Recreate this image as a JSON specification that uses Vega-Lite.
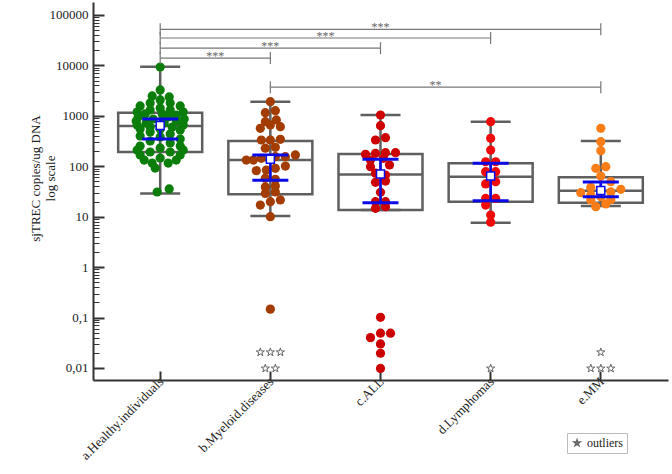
{
 "$schema": "https://vega.github.io/schema/vega-lite/v6.json",
 "width": 575, "height": 378,
 "autosize": {"type": "none"},
 "padding": {"left": 93, "top": 2, "right": 4, "bottom": 94},
 "background": "white",
 "config": {"view": {"stroke": null}, "font": "Liberation Serif", "axis": {"grid": false}},
 "datasets": {
  "boxes": [
   {"g": "a.Healthy.individuals", "lo": 29, "q1": 192, "med": 630, "q3": 1157, "hi": 9440, "mean": 645, "ciLo": 348, "ciHi": 867},
   {"g": "b.Myeloid.diseases", "lo": 10.3, "q1": 28, "med": 133, "q3": 318, "hi": 1910, "mean": 138, "ciLo": 53, "ciHi": 167},
   {"g": "c.ALL", "lo": 13.6, "q1": 13.6, "med": 69, "q3": 175, "hi": 1040, "mean": 70, "ciLo": 19, "ciHi": 138},
   {"g": "d.Lymphomas", "lo": 7.6, "q1": 19.9, "med": 62, "q3": 115, "hi": 766, "mean": 64, "ciLo": 20.8, "ciHi": 115},
   {"g": "e.MM", "lo": 16.3, "q1": 19, "med": 32.8, "q3": 60.5, "hi": 318, "mean": 33, "ciLo": 25, "ciHi": 48.7}
  ],
  "dots": [
   {"g": "a.Healthy.individuals", "v": 9300, "s": 0},
   {"g": "a.Healthy.individuals", "v": 3260, "s": 0},
   {"g": "a.Healthy.individuals", "v": 2480, "s": -0.8},
   {"g": "a.Healthy.individuals", "v": 2370, "s": 0.9},
   {"g": "a.Healthy.individuals", "v": 2070, "s": 0},
   {"g": "a.Healthy.individuals", "v": 1800, "s": -1},
   {"g": "a.Healthy.individuals", "v": 1800, "s": 1},
   {"g": "a.Healthy.individuals", "v": 1570, "s": -2},
   {"g": "a.Healthy.individuals", "v": 1570, "s": 2},
   {"g": "a.Healthy.individuals", "v": 1430, "s": 0},
   {"g": "a.Healthy.individuals", "v": 1310, "s": -1},
   {"g": "a.Healthy.individuals", "v": 1310, "s": 1},
   {"g": "a.Healthy.individuals", "v": 1190, "s": -2.3},
   {"g": "a.Healthy.individuals", "v": 1190, "s": 2.3},
   {"g": "a.Healthy.individuals", "v": 1090, "s": -1.5},
   {"g": "a.Healthy.individuals", "v": 1090, "s": 0.2},
   {"g": "a.Healthy.individuals", "v": 1040, "s": 1.6},
   {"g": "a.Healthy.individuals", "v": 949, "s": -2.2},
   {"g": "a.Healthy.individuals", "v": 949, "s": 0.8},
   {"g": "a.Healthy.individuals", "v": 866, "s": -0.7},
   {"g": "a.Healthy.individuals", "v": 866, "s": 2.4},
   {"g": "a.Healthy.individuals", "v": 790, "s": -2.4},
   {"g": "a.Healthy.individuals", "v": 790, "s": 1.6},
   {"g": "a.Healthy.individuals", "v": 721, "s": -1.4},
   {"g": "a.Healthy.individuals", "v": 721, "s": 0.4},
   {"g": "a.Healthy.individuals", "v": 659, "s": -2.3},
   {"g": "a.Healthy.individuals", "v": 659, "s": 2.3},
   {"g": "a.Healthy.individuals", "v": 601, "s": -1},
   {"g": "a.Healthy.individuals", "v": 601, "s": 1.2},
   {"g": "a.Healthy.individuals", "v": 548, "s": -2},
   {"g": "a.Healthy.individuals", "v": 548, "s": 0},
   {"g": "a.Healthy.individuals", "v": 524, "s": 2},
   {"g": "a.Healthy.individuals", "v": 478, "s": -1},
   {"g": "a.Healthy.individuals", "v": 437, "s": 1},
   {"g": "a.Healthy.individuals", "v": 399, "s": -2},
   {"g": "a.Healthy.individuals", "v": 381, "s": 0},
   {"g": "a.Healthy.individuals", "v": 348, "s": 2},
   {"g": "a.Healthy.individuals", "v": 317, "s": -1},
   {"g": "a.Healthy.individuals", "v": 290, "s": 1},
   {"g": "a.Healthy.individuals", "v": 252, "s": -2},
   {"g": "a.Healthy.individuals", "v": 252, "s": 2},
   {"g": "a.Healthy.individuals", "v": 231, "s": 0},
   {"g": "a.Healthy.individuals", "v": 210, "s": -2.3},
   {"g": "a.Healthy.individuals", "v": 210, "s": 2.3},
   {"g": "a.Healthy.individuals", "v": 192, "s": -1},
   {"g": "a.Healthy.individuals", "v": 192, "s": 1},
   {"g": "a.Healthy.individuals", "v": 168, "s": -2},
   {"g": "a.Healthy.individuals", "v": 168, "s": 2},
   {"g": "a.Healthy.individuals", "v": 146, "s": 0},
   {"g": "a.Healthy.individuals", "v": 133, "s": -1.6},
   {"g": "a.Healthy.individuals", "v": 133, "s": 1.6},
   {"g": "a.Healthy.individuals", "v": 116, "s": -0.8},
   {"g": "a.Healthy.individuals", "v": 116, "s": 0.8},
   {"g": "a.Healthy.individuals", "v": 92, "s": -0.5},
   {"g": "a.Healthy.individuals", "v": 35.5, "s": 0.9},
   {"g": "a.Healthy.individuals", "v": 30.9, "s": -0.3},
   {"g": "b.Myeloid.diseases", "v": 1910, "s": 0},
   {"g": "b.Myeloid.diseases", "v": 1157, "s": -0.5},
   {"g": "b.Myeloid.diseases", "v": 1265, "s": 0.5},
   {"g": "b.Myeloid.diseases", "v": 766, "s": -0.5},
   {"g": "b.Myeloid.diseases", "v": 830, "s": 0.6},
   {"g": "b.Myeloid.diseases", "v": 660, "s": 0},
   {"g": "b.Myeloid.diseases", "v": 567, "s": -1},
   {"g": "b.Myeloid.diseases", "v": 610, "s": 1},
   {"g": "b.Myeloid.diseases", "v": 332, "s": -0.9},
   {"g": "b.Myeloid.diseases", "v": 332, "s": 0},
   {"g": "b.Myeloid.diseases", "v": 343, "s": 1},
   {"g": "b.Myeloid.diseases", "v": 228, "s": -0.5},
   {"g": "b.Myeloid.diseases", "v": 238, "s": 0.5},
   {"g": "b.Myeloid.diseases", "v": 133, "s": -2.4},
   {"g": "b.Myeloid.diseases", "v": 133, "s": -1.7},
   {"g": "b.Myeloid.diseases", "v": 144, "s": -0.9},
   {"g": "b.Myeloid.diseases", "v": 155, "s": 0.5},
   {"g": "b.Myeloid.diseases", "v": 155, "s": 1.5},
   {"g": "b.Myeloid.diseases", "v": 168, "s": 2.5},
   {"g": "b.Myeloid.diseases", "v": 82, "s": -1.4},
   {"g": "b.Myeloid.diseases", "v": 84, "s": -0.4},
   {"g": "b.Myeloid.diseases", "v": 91, "s": 0.5},
   {"g": "b.Myeloid.diseases", "v": 101, "s": 1.5},
   {"g": "b.Myeloid.diseases", "v": 58, "s": -0.5},
   {"g": "b.Myeloid.diseases", "v": 55, "s": 0.5},
   {"g": "b.Myeloid.diseases", "v": 39, "s": -0.5},
   {"g": "b.Myeloid.diseases", "v": 40.6, "s": 0.5},
   {"g": "b.Myeloid.diseases", "v": 29, "s": -0.5},
   {"g": "b.Myeloid.diseases", "v": 31, "s": 0.5},
   {"g": "b.Myeloid.diseases", "v": 19.9, "s": 0},
   {"g": "b.Myeloid.diseases", "v": 17, "s": -1},
   {"g": "b.Myeloid.diseases", "v": 21.5, "s": 1},
   {"g": "b.Myeloid.diseases", "v": 10, "s": 0},
   {"g": "b.Myeloid.diseases", "v": 0.147, "s": 0},
   {"g": "c.ALL", "v": 1040, "s": 0},
   {"g": "c.ALL", "v": 638, "s": 0},
   {"g": "c.ALL", "v": 332, "s": -0.5},
   {"g": "c.ALL", "v": 369, "s": 0.5},
   {"g": "c.ALL", "v": 173, "s": -1.5},
   {"g": "c.ALL", "v": 181, "s": -0.5},
   {"g": "c.ALL", "v": 186, "s": 0.5},
   {"g": "c.ALL", "v": 186, "s": 1.5},
   {"g": "c.ALL", "v": 133, "s": -1},
   {"g": "c.ALL", "v": 144, "s": 0.3},
   {"g": "c.ALL", "v": 98, "s": -1},
   {"g": "c.ALL", "v": 106, "s": 0.9},
   {"g": "c.ALL", "v": 73, "s": -0.5},
   {"g": "c.ALL", "v": 67, "s": 0.5},
   {"g": "c.ALL", "v": 48, "s": -0.5},
   {"g": "c.ALL", "v": 51, "s": 0.5},
   {"g": "c.ALL", "v": 30.5, "s": 0},
   {"g": "c.ALL", "v": 19.9, "s": -0.5},
   {"g": "c.ALL", "v": 19.9, "s": 0.5},
   {"g": "c.ALL", "v": 14.7, "s": -0.5},
   {"g": "c.ALL", "v": 15.8, "s": 0.5},
   {"g": "c.ALL", "v": 0.101, "s": 0},
   {"g": "c.ALL", "v": 0.040, "s": -1},
   {"g": "c.ALL", "v": 0.049, "s": 0},
   {"g": "c.ALL", "v": 0.049, "s": 1},
   {"g": "c.ALL", "v": 0.030, "s": 0},
   {"g": "c.ALL", "v": 0.0196, "s": 0},
   {"g": "c.ALL", "v": 0.0098, "s": 0},
   {"g": "d.Lymphomas", "v": 766, "s": 0},
   {"g": "d.Lymphomas", "v": 359, "s": 0},
   {"g": "d.Lymphomas", "v": 210, "s": 0},
   {"g": "d.Lymphomas", "v": 123, "s": -0.5},
   {"g": "d.Lymphomas", "v": 123, "s": 0.5},
   {"g": "d.Lymphomas", "v": 78, "s": -0.5},
   {"g": "d.Lymphomas", "v": 78, "s": 0.5},
   {"g": "d.Lymphomas", "v": 44.6, "s": -0.5},
   {"g": "d.Lymphomas", "v": 49.5, "s": 0.5},
   {"g": "d.Lymphomas", "v": 23, "s": -0.5},
   {"g": "d.Lymphomas", "v": 23, "s": 0.5},
   {"g": "d.Lymphomas", "v": 17, "s": -0.5},
   {"g": "d.Lymphomas", "v": 10.8, "s": 0},
   {"g": "d.Lymphomas", "v": 7.8, "s": 0},
   {"g": "e.MM", "v": 566, "s": 0},
   {"g": "e.MM", "v": 308, "s": 0},
   {"g": "e.MM", "v": 204, "s": 0},
   {"g": "e.MM", "v": 91, "s": -0.5},
   {"g": "e.MM", "v": 98, "s": 0.5},
   {"g": "e.MM", "v": 64, "s": 0},
   {"g": "e.MM", "v": 38, "s": -1},
   {"g": "e.MM", "v": 49.5, "s": 1},
   {"g": "e.MM", "v": 30, "s": -2},
   {"g": "e.MM", "v": 35, "s": 2},
   {"g": "e.MM", "v": 27, "s": -1},
   {"g": "e.MM", "v": 31, "s": 1},
   {"g": "e.MM", "v": 25, "s": 0},
   {"g": "e.MM", "v": 21.5, "s": -1},
   {"g": "e.MM", "v": 21.8, "s": 1},
   {"g": "e.MM", "v": 15.8, "s": -0.5},
   {"g": "e.MM", "v": 17.9, "s": 0.5}
  ],
  "stars": [
   {"g": "b.Myeloid.diseases", "v": 0.0205, "s": -1},
   {"g": "b.Myeloid.diseases", "v": 0.0205, "s": 0},
   {"g": "b.Myeloid.diseases", "v": 0.0205, "s": 1},
   {"g": "b.Myeloid.diseases", "v": 0.0098, "s": -0.5},
   {"g": "b.Myeloid.diseases", "v": 0.0098, "s": 0.5},
   {"g": "d.Lymphomas", "v": 0.0098, "s": 0},
   {"g": "e.MM", "v": 0.0205, "s": 0},
   {"g": "e.MM", "v": 0.0098, "s": -1},
   {"g": "e.MM", "v": 0.0098, "s": 0},
   {"g": "e.MM", "v": 0.0098, "s": 1}
  ],
  "brackets": [
   {"from": "a.Healthy.individuals", "to": "e.MM", "level": 52000, "label": "***", "at": "c.ALL", "half": 0},
   {"from": "a.Healthy.individuals", "to": "d.Lymphomas", "level": 35000, "label": "***", "at": "b.Myeloid.diseases", "half": 5.5},
   {"from": "a.Healthy.individuals", "to": "c.ALL", "level": 22000, "label": "***", "at": "b.Myeloid.diseases", "half": 0},
   {"from": "a.Healthy.individuals", "to": "b.Myeloid.diseases", "level": 14000, "label": "***", "at": "a.Healthy.individuals", "half": 5.5},
   {"from": "b.Myeloid.diseases", "to": "e.MM", "level": 3700, "label": "**", "at": "c.ALL", "half": 5.5}
  ]
 },
 "layer": [
  {
   "data": {"name": "boxes"},
   "mark": {"type": "rule", "color": "#5f5f5f", "strokeWidth": 2.5},
   "encoding": {
    "x": {"field": "g", "type": "nominal",
     "scale": {"type": "band", "domain": ["a.Healthy.individuals", "b.Myeloid.diseases", "c.ALL", "d.Lymphomas", "e.MM"], "paddingInner": 0, "paddingOuter": 0.11},
     "axis": {"title": null, "labelAngle": -45, "labelFont": "Liberation Serif", "labelFontSize": 13, "labelColor": "#222", "tickSize": -9, "tickWidth": 2, "tickColor": "#333", "domainColor": "#333", "domainWidth": 2, "labelPadding": 4, "labelOffset": -3}},
    "y": {"field": "lo", "type": "quantitative",
     "scale": {"type": "log", "domain": [0.00578, 181000], "nice": false},
     "axis": {
      "title": ["sjTREC copies/ug DNA", "log scale"],
      "titleFont": "Liberation Serif", "titleFontSize": 13, "titleFontWeight": "normal", "titleColor": "#222",
      "titleAngle": -90, "titleX": -58, "titleY": 176, "titleAlign": "center", "titleBaseline": "middle", "titleLineHeight": 15,
      "values": [0.01,0.02,0.03,0.04,0.05,0.06,0.07,0.08,0.09,0.1,0.2,0.3,0.4,0.5,0.6,0.7,0.8,0.9,1,2,3,4,5,6,7,8,9,10,20,30,40,50,60,70,80,90,100,200,300,400,500,600,700,800,900,1000,2000,3000,4000,5000,6000,7000,8000,9000,10000,20000,30000,40000,50000,60000,70000,80000,90000,100000],
      "labelExpr": "abs(log(datum.value)/LN10 - round(log(datum.value)/LN10)) > 0.001 ? '' : datum.value < 0.05 ? '0,01' : datum.value < 0.5 ? '0,1' : format(datum.value, 'd')",
      "labelFont": "Liberation Serif", "labelFontSize": 13, "labelColor": "#222",
      "labelOverlap": false, "labelBound": false, "labelFlush": false, "labelPadding": 16,
      "domainColor": "#333", "domainWidth": 2, "tickColor": "#333",
      "tickWidth": {"condition": {"test": "abs(log(datum.value)/LN10 - round(log(datum.value)/LN10)) < 0.001", "value": 2}, "value": 1},
      "tickSize": {"condition": {"test": "abs(log(datum.value)/LN10 - round(log(datum.value)/LN10)) < 0.001", "value": -11}, "value": -6}
     }},
    "y2": {"field": "hi"}
   }
  },
  {
   "data": {"name": "boxes"},
   "mark": {"type": "bar", "width": 84, "fillOpacity": 0, "stroke": "#5f5f5f", "strokeWidth": 2.5},
   "encoding": {
    "x": {"field": "g", "type": "nominal"},
    "y": {"field": "q1", "type": "quantitative"},
    "y2": {"field": "q3"}
   }
  },
  {
   "data": {"name": "boxes"},
   "mark": {"type": "tick", "size": 84, "thickness": 2.5, "color": "#5f5f5f", "opacity": 1},
   "encoding": {"x": {"field": "g", "type": "nominal"}, "y": {"field": "med", "type": "quantitative"}}
  },
  {
   "data": {"name": "boxes"},
   "mark": {"type": "tick", "size": 40, "thickness": 2.5, "color": "#5f5f5f", "opacity": 1},
   "encoding": {"x": {"field": "g", "type": "nominal"}, "y": {"field": "lo", "type": "quantitative"}}
  },
  {
   "data": {"name": "boxes"},
   "mark": {"type": "tick", "size": 40, "thickness": 2.5, "color": "#5f5f5f", "opacity": 1},
   "encoding": {"x": {"field": "g", "type": "nominal"}, "y": {"field": "hi", "type": "quantitative"}}
  },
  {
   "data": {"name": "dots"},
   "mark": {"type": "circle", "size": 85, "opacity": 1},
   "encoding": {
    "x": {"field": "g", "type": "nominal"},
    "xOffset": {"field": "s", "type": "quantitative", "scale": {"domain": [-5.5, 5.5]}},
    "y": {"field": "v", "type": "quantitative"},
    "color": {"field": "g", "type": "nominal", "legend": null,
     "scale": {"domain": ["a.Healthy.individuals", "b.Myeloid.diseases", "c.ALL", "d.Lymphomas", "e.MM"], "range": ["#0b7d0b", "#a33c00", "#cc0000", "#f00a0a", "#fb7d18"]}}
   }
  },
  {
   "data": {"name": "stars"},
   "mark": {"type": "point", "size": 75, "fill": "white", "stroke": "#666666", "strokeWidth": 1, "opacity": 1},
   "encoding": {
    "x": {"field": "g", "type": "nominal"},
    "xOffset": {"field": "s", "type": "quantitative"},
    "y": {"field": "v", "type": "quantitative"},
    "shape": {"datum": "outliers", "type": "nominal",
     "scale": {"range": ["M0,-1L0.223,-0.307L0.951,-0.309L0.361,0.117L0.588,0.809L0,0.38L-0.588,0.809L-0.361,0.117L-0.951,-0.309L-0.223,-0.307Z"]},
     "legend": {"title": null, "orient": "none", "legendX": 474, "legendY": 431, "strokeColor": "#bbbbbb", "padding": 4, "labelFont": "Liberation Serif", "labelFontSize": 12, "labelColor": "#222", "symbolSize": 40, "labelOffset": 4,
      "encode": {"symbols": {"update": {"shape": {"value": "M0,-1L0.223,-0.307L0.951,-0.309L0.361,0.117L0.588,0.809L0,0.38L-0.588,0.809L-0.361,0.117L-0.951,-0.309L-0.223,-0.307Z"}, "stroke": {"value": "#555555"}, "strokeWidth": {"value": 1}, "fill": {"value": "white"}, "opacity": {"value": 1}, "fillOpacity": {"value": 1}, "strokeOpacity": {"value": 1}}}}}}
   }
  },
  {
   "data": {"name": "boxes"},
   "mark": {"type": "rule", "color": "#0a0ae6", "strokeWidth": 2.5},
   "encoding": {"x": {"field": "g", "type": "nominal"}, "y": {"field": "ciLo", "type": "quantitative"}, "y2": {"field": "ciHi"}}
  },
  {
   "data": {"name": "boxes"},
   "mark": {"type": "tick", "size": 36, "thickness": 3, "color": "#0a0ae6", "opacity": 1},
   "encoding": {"x": {"field": "g", "type": "nominal"}, "y": {"field": "ciLo", "type": "quantitative"}}
  },
  {
   "data": {"name": "boxes"},
   "mark": {"type": "tick", "size": 36, "thickness": 3, "color": "#0a0ae6", "opacity": 1},
   "encoding": {"x": {"field": "g", "type": "nominal"}, "y": {"field": "ciHi", "type": "quantitative"}}
  },
  {
   "data": {"name": "boxes"},
   "mark": {"type": "point", "shape": "square", "size": 64, "fill": "white", "stroke": "#0a0ae6", "strokeWidth": 1.5, "opacity": 1},
   "encoding": {"x": {"field": "g", "type": "nominal"}, "y": {"field": "mean", "type": "quantitative"}}
  },
  {
   "data": {"name": "brackets"},
   "mark": {"type": "rule", "color": "#777777", "strokeWidth": 1.2},
   "encoding": {"x": {"field": "from", "type": "nominal"}, "x2": {"field": "to"}, "y": {"field": "level", "type": "quantitative"}}
  },
  {
   "data": {"name": "brackets"},
   "mark": {"type": "tick", "orient": "vertical", "size": 12, "thickness": 1.2, "color": "#777777", "opacity": 1},
   "encoding": {"x": {"field": "from", "type": "nominal"}, "y": {"field": "level", "type": "quantitative"}}
  },
  {
   "data": {"name": "brackets"},
   "mark": {"type": "tick", "orient": "vertical", "size": 12, "thickness": 1.2, "color": "#777777", "opacity": 1},
   "encoding": {"x": {"field": "to", "type": "nominal"}, "y": {"field": "level", "type": "quantitative"}}
  },
  {
   "data": {"name": "brackets"},
   "mark": {"type": "text", "font": "Liberation Serif", "fontSize": 12, "color": "#666666", "baseline": "alphabetic", "dy": 2},
   "encoding": {
    "x": {"field": "at", "type": "nominal"},
    "xOffset": {"field": "half", "type": "quantitative"},
    "y": {"field": "level", "type": "quantitative"},
    "text": {"field": "label"}
   }
  }
 ]
}
